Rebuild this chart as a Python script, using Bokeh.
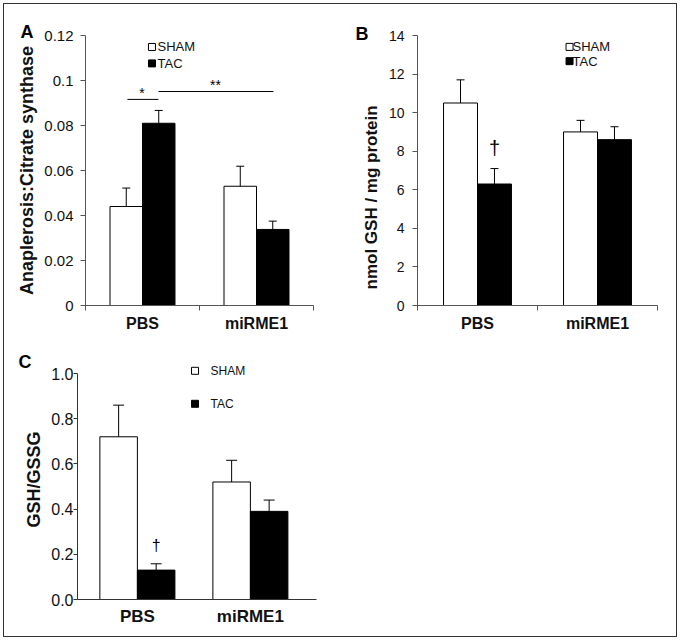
from bokeh.plotting import figure
from bokeh.models import FixedTicker, Range1d, Title
from bokeh.layouts import column, row
from bokeh.embed import file_html
from bokeh.resources import INLINE
from bokeh.core.properties import value

FONT = "Liberation Sans"

# ---------------- data ----------------
categories = ["PBS", "miRME1"]
groups = ["SHAM", "TAC"]

a_sham = [0.044, 0.053]
a_sham_err = [0.0082, 0.0089]
a_tac = [0.081, 0.0338]
a_tac_err = [0.0057, 0.0037]
a_ticks = ["0", "0.02", "0.04", "0.06", "0.08", "0.1", "0.12"]
a_ylabel = "Anaplerosis:Citrate synthase"

b_sham = [10.5, 9.0]
b_sham_err = [1.2, 0.6]
b_tac = [6.3, 8.6]
b_tac_err = [0.8, 0.67]
b_ticks = ["0", "2", "4", "6", "8", "10", "12", "14"]
b_ylabel = "nmol GSH / mg protein"

c_sham = [0.72, 0.52]
c_sham_err = [0.14, 0.096]
c_tac = [0.13, 0.39]
c_tac_err = [0.028, 0.05]
c_ticks = ["0.0", "0.2", "0.4", "0.6", "0.8", "1.0"]
c_ylabel = "GSH/GSSG"

OFF = 4  # page offset of the layout (margin applied below)
centers = [0.5, 1.5]


def make_fig(width, height, left, right, top, bottom, xr, yr):
    p = figure(width=width, height=height, x_range=Range1d(*xr), y_range=Range1d(*yr),
               output_backend="svg", toolbar_location=None, title=None,
               min_border_left=left, min_border_right=right,
               min_border_top=top, min_border_bottom=bottom)
    p.xgrid.visible = False
    p.ygrid.visible = False
    p.outline_line_color = None
    p.background_fill_color = "white"
    p.border_fill_color = "white"
    return p


def style_axes(p, ticks, tick_size, ylabel, ylabel_size, ylabel_standoff, label_standoff,
               tick_out, axis_color, x_minor, x_standoff, xlabel_size, ybounds=None):
    ya = p.yaxis[0]
    vals = [float(t) for t in ticks]
    ya.ticker = FixedTicker(ticks=vals)
    ya.major_label_overrides = dict(zip(vals, ticks))
    ya.minor_tick_line_color = None
    ya.major_tick_out = tick_out
    ya.major_tick_in = 0
    ya.major_tick_line_color = axis_color
    ya.axis_line_color = axis_color
    ya.major_label_text_font = FONT
    ya.major_label_text_font_size = tick_size
    ya.major_label_text_color = "#111111"
    ya.major_label_standoff = label_standoff
    if ylabel:
        ya.axis_label = ylabel
        ya.axis_label_text_font = FONT
        ya.axis_label_text_font_style = "bold"
        ya.axis_label_text_font_size = ylabel_size
        ya.axis_label_text_color = "#111111"
        ya.axis_label_standoff = ylabel_standoff
    if ybounds is not None:
        ya.bounds = ybounds

    xa = p.xaxis[0]
    xa.ticker = FixedTicker(ticks=centers, minor_ticks=x_minor)
    xa.major_label_overrides = dict(zip(centers, categories))
    xa.major_tick_out = 0
    xa.major_tick_in = 0
    xa.minor_tick_out = 5
    xa.minor_tick_in = 0
    xa.minor_tick_line_color = axis_color
    xa.axis_line_color = axis_color
    xa.major_label_text_font = FONT
    xa.major_label_text_font_style = "bold"
    xa.major_label_text_font_size = xlabel_size
    xa.major_label_text_color = "#111111"
    xa.major_label_standoff = x_standoff


def draw_bars(p, sham, sham_err, tac, tac_err, bw, cap):
    xs_sham = [c - bw / 2 for c in centers]
    xs_tac = [c + bw / 2 for c in centers]
    p.vbar(x=xs_sham, top=sham, bottom=0, width=bw, fill_color="white",
           line_color="black", line_width=1)
    p.vbar(x=xs_tac, top=tac, bottom=0, width=bw, fill_color="black",
           line_color="black", line_width=1)
    for xs, v, e in ((xs_sham, sham, sham_err), (xs_tac, tac, tac_err)):
        tops = [a + b for a, b in zip(v, e)]
        p.segment(x0=xs, y0=v, x1=xs, y1=tops, line_color="black", line_width=1)
        p.scatter(x=xs, y=tops, marker="dash", size=cap, line_color="black", line_width=1)
    return xs_sham, xs_tac


def legend(p, x_sq, x_txt, ys, size, font_size):
    p.scatter(x=[x_sq, x_sq], y=ys, marker="square", size=size,
              fill_color=["white", "black"], line_color="black", line_width=1)
    p.text(x=[x_txt, x_txt], y=ys, text=groups, text_font=value(FONT),
           text_font_size=value(font_size), text_align="left", text_baseline="middle",
           text_color="#111111")


def letter(p, txt, offset, standoff):
    p.add_layout(Title(text=txt, align="left", offset=offset, standoff=standoff,
                       vertical_align="bottom", text_font=FONT, text_font_style="bold",
                       text_font_size="18px", text_color="black"), "above")


# ---------------- Panel A ----------------
pA = make_fig(340 - OFF, 340 - OFF, 85 - OFF, 27, 35 - OFF, 35, (0, 2), (0, 0.12))
style_axes(pA, a_ticks, "15px", a_ylabel, "18px", 4, 7, 5, "#555555", [0, 1, 2], 4, "16px")
xsA_sham, xsA_tac = draw_bars(pA, a_sham, a_sham_err, a_tac, a_tac_err, 0.285, 8)
legend(pA, 0.583, 0.632, [0.1149, 0.1076], 7, "13px")
# significance brackets
pA.segment(x0=[0.368, 0.64], y0=[0.0916, 0.0951], x1=[0.64, 1.649], y1=[0.0916, 0.0951],
           line_color="black", line_width=1)
pA.text(x=[0.496, 1.14], y=[0.0946, 0.0978], text=["*", "**"], text_font=value(FONT),
        text_font_size=value("14px"), text_align="center", text_baseline="middle",
        text_color="black")
letter(pA, "A", -65, -12)

# ---------------- Panel B ----------------
pB = make_fig(676 - 340, 340 - OFF, 77, 19, 32 - OFF, 34, (0, 2), (0, 14))
style_axes(pB, b_ticks, "14px", None, None, None, 8, 5, "#555555", [0, 1, 2], 4, "16px")
pB.add_layout(Title(text=b_ylabel, align="left", offset=16, standoff=10,
                    vertical_align="bottom", text_font=FONT, text_font_style="bold",
                    text_font_size="17px", text_color="#111111"), "left")
xsB_sham, xsB_tac = draw_bars(pB, b_sham, b_sham_err, b_tac, b_tac_err, 0.283, 8)
legend(pB, 1.267, 1.292, [13.41, 12.67], 7, "13px")
pB.text(x=[xsB_tac[0]], y=[b_tac[0] + b_tac_err[0] + 1.08], text=["†"], text_font=value(FONT),
        text_font_size=value("20px"), text_align="center", text_baseline="middle",
        text_color="black")
letter(pB, "B", -62, -16)

# ---------------- Panel C ----------------
pC = make_fig(676 - OFF, 636 - 340, 77 - OFF, 676 - 316, 19, 37, (-0.03, 2.085), (0, 1.062))
style_axes(pC, c_ticks, "16px", c_ylabel, "18px", 4, 0, 4, "#333333", [], 7, "17px",
           ybounds=(0, 1.0))
pC.xaxis[0].minor_tick_out = 0
xsC_sham, xsC_tac = draw_bars(pC, c_sham, c_sham_err, c_tac, c_tac_err, 0.332, 11)
legend(pC, 1.01, 1.147, [1.012, 0.866], 7, "12px")
pC.text(x=[xsC_tac[0]], y=[c_tac[0] + c_tac_err[0] + 0.081], text=["†"], text_font=value(FONT),
        text_font_size=value("16px"), text_align="center", text_baseline="middle",
        text_color="black")
letter(pC, "C", -59, -24)

layout = column(row(pA, pB), pC,
                styles={"margin": "4px", "outline": "1.5px solid #333333"})

open("out.html", "w").write(file_html(layout, INLINE))
